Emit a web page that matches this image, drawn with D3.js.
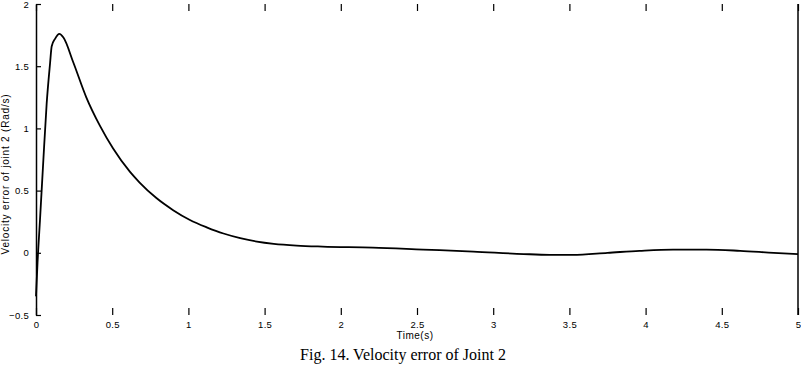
<!DOCTYPE html>
<html>
<head>
<meta charset="utf-8">
<script src="https://cdn.jsdelivr.net/npm/d3@7"></script>
<style>
  body { margin: 0; background: #fff; }
  svg { display: block; }
  .tick text { font-family: "Liberation Sans", Arial, sans-serif; font-size: 9.5px; letter-spacing: 0.3px; }
</style>
</head>
<body>
<div id="chart"></div>
<script>
        // Velocity error of joint 2
        const timeS = [0, 0.01, 0.026, 0.048, 0.07, 0.092, 0.103, 0.125, 0.153, 0.18, 0.245, 0.33, 0.42,
            0.505, 0.617, 0.68, 0.79, 0.9, 1.01, 1.12, 1.23, 1.34, 1.45, 1.56, 1.71, 1.88, 2.21, 2.54,
            2.87, 3.2, 3.37, 3.52, 3.75, 3.96, 4.18, 4.4, 4.62, 4.84, 5];
        const velErr = [-0.35, -0.08, 0.26, 0.74, 1.20, 1.52, 1.66, 1.72, 1.76, 1.73, 1.53, 1.25, 1.02,
            0.84, 0.65, 0.565, 0.44, 0.343, 0.264, 0.205, 0.155, 0.118, 0.09, 0.072, 0.058, 0.05, 0.042, 0.026,
            0.01, -0.01, -0.016, -0.016, 0, 0.016, 0.026, 0.026, 0.016, 0, -0.01];
        const xTicks = [0, 0.5, 1, 1.5, 2, 2.5, 3, 3.5, 4, 4.5, 5];
        const yTicks = [-0.5, 0, 0.5, 1, 1.5, 2];

        const W = 801, H = 377;
        const plotL = 36, plotR = 798, plotT = 4, plotB = 315;

        const svg = d3.select("#chart").append("svg")
            .attr("width", W)
            .attr("height", H);

        const xScale = d3.scaleLinear().domain([0, 5]).range([plotL, plotR]);
        const yScale = d3.scaleLinear().domain([-0.5, 2]).range([plotB, plotT]);

        // bottom ticks (pointing up) with labels
        const xAxis = svg.append("g")
            .attr("transform", `translate(0, ${plotB})`)
            .call(d3.axisBottom(xScale).tickValues(xTicks).tickFormat(d3.format("")).tickSizeInner(-7).tickSizeOuter(0).tickPadding(6));
        xAxis.select(".domain").remove();

        // top ticks (pointing down), no labels
        const xTop = svg.append("g")
            .attr("transform", `translate(0, ${plotT})`)
            .call(d3.axisTop(xScale).tickValues(xTicks).tickFormat("").tickSizeInner(-7).tickSizeOuter(0));
        xTop.select(".domain").remove();

        // left axis
        const yAxis = svg.append("g")
            .attr("transform", `translate(${plotL}, 0)`)
            .call(d3.axisLeft(yScale).tickValues(yTicks).tickFormat(d3.format("")).tickSizeInner(-5).tickSizeOuter(0).tickPadding(7));
        yAxis.select(".domain").attr("stroke-width", 1.5);

        // right border
        svg.append("line")
            .attr("x1", plotR).attr("x2", plotR)
            .attr("y1", plotT).attr("y2", plotB)
            .attr("stroke", "#000")
            .attr("stroke-width", 1.5);

        svg.selectAll(".tick line").attr("stroke-width", 1.2);

        // curve
        const pts = timeS.map((t, i) => [t, velErr[i]]);
        svg.append("path")
            .datum(pts)
            .attr("fill", "none")
            .attr("stroke", "#000")
            .attr("stroke-width", 1.8)
            .attr("d", d3.line()
                .x(d => xScale(d[0]))
                .y(d => yScale(d[1]))
                .curve(d3.curveMonotoneX));

        // axis labels
        svg.append("text")
            .attr("x", 415)
            .attr("y", 339)
            .attr("text-anchor", "middle")
            .style("font-family", "Liberation Sans, Arial, sans-serif")
            .style("font-size", "10px")
            .style("letter-spacing", "0.5px")
            .text("Time(s)");

        svg.append("text")
            .attr("transform", "translate(9, 174) rotate(-90)")
            .attr("text-anchor", "middle")
            .style("font-family", "Liberation Sans, Arial, sans-serif")
            .style("font-size", "10px")
            .style("letter-spacing", "0.8px")
            .text("Velocity error of joint 2 (Rad/s)");

        // caption
        svg.append("text")
            .attr("x", 403)
            .attr("y", 360)
            .attr("text-anchor", "middle")
            .style("font-family", "Liberation Serif, Times New Roman, serif")
            .style("font-size", "16px")
            .text("Fig. 14. Velocity error of Joint 2");
</script>
</body>
</html>
